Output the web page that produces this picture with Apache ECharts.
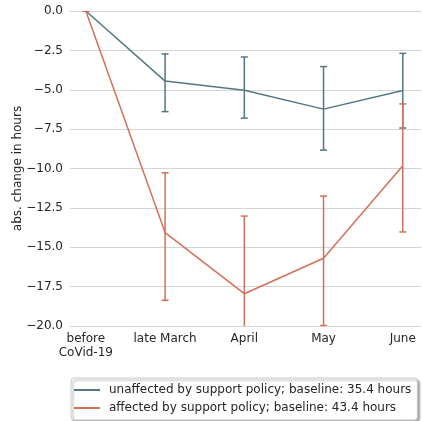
<!DOCTYPE html>
<html><head><meta charset="utf-8">
<script src="https://cdn.jsdelivr.net/npm/echarts@6/dist/echarts.min.js"></script>
<style>html,body{margin:0;padding:0;background:#fff}#c{width:422px;height:421px}</style>
</head><body><div id="c"></div>
<script>
const categories = ['before\nCoVid-19', 'late March', 'April', 'May', 'June'];
const unaffectedMean = [0, -4.45, -5.03, -6.23, -5.05];
const unaffectedLow  = [0, -6.39, -6.80, -8.83, -7.43];
const unaffectedHigh = [0, -2.73, -2.92, -3.53, -2.69];
const affectedMean = [0, -14.07, -17.95, -15.70, -9.82];
const affectedLow  = [0, -18.37, -22.9, -19.97, -14.03];
const affectedHigh = [0, -10.27, -13.02, -11.75, -5.90];
const yTicks = [-20, -17.5, -15, -12.5, -10, -7.5, -5, -2.5, 0];
const nameU = 'unaffected by support policy; baseline: 35.4 hours';
const nameA = 'affected by support policy; baseline: 43.4 hours';
const colU = '#527684';
const colA = '#d2705a';

function errData(lo, hi){ return lo.map((l,i)=>[i,l,hi[i]]); }
function lineData(m){ return m.map((v,i)=>[i,v]); }
function errRender(color){
  return function(params, api){
    const x = api.value(0);
    const p1 = api.coord([x, api.value(1)]);
    const p2 = api.coord([x, api.value(2)]);
    const w = 3.5;
    const st = {stroke: color, lineWidth: 1.5, fill: null};
    return {type:'group', children:[
      {type:'line', shape:{x1:p1[0],y1:p1[1],x2:p2[0],y2:p2[1]}, style:st},
      {type:'line', shape:{x1:p1[0]-w,y1:p1[1],x2:p1[0]+w,y2:p1[1]}, style:st},
      {type:'line', shape:{x1:p2[0]-w,y1:p2[1],x2:p2[0]+w,y2:p2[1]}, style:st}
    ]};
  };
}
const chart = echarts.init(document.getElementById('c'), null, {renderer:'canvas'});
chart.setOption({
  animation:false,
  textStyle:{fontFamily:'DejaVu Sans'},
  grid:{left:70, right:1, top:11, bottom:95, outerBoundsMode:'none', containLabel:false},
  xAxis:{type:'value', min:-0.2, max:4.23,
    axisLine:{show:false}, axisTick:{show:false}, splitLine:{show:false},
    axisLabel:{customValues:[0,1,2,3,4], formatter:v=>categories[Math.round(v)], color:'#262626', fontSize:12, margin:6, lineHeight:14, fontFamily:'DejaVu Sans', align:'center'}
  },
  yAxis:{type:'value', min:-20, max:0, interval:2.5,
    axisLine:{show:false}, axisTick:{show:false},
    splitLine:{lineStyle:{color:'#d5d5d5', width:1}},
    axisLabel:{color:'#262626', fontSize:12, margin:7, fontFamily:'DejaVu Sans',
      formatter:v=>(v<0?'\u2212':'')+Math.abs(v).toFixed(1)},
    name:'abs. change in hours', nameLocation:'middle', nameGap:46, nameRotate:90, nameMoveOverlap:false,
    nameTextStyle:{color:'#262626', fontSize:12, fontFamily:'DejaVu Sans'}
  },
  legend:{orient:'vertical', left:71, top:378,
    data:[{name:nameU, icon:'rect'},{name:nameA, icon:'rect'}],
    itemWidth:26, itemHeight:2, itemGap:4,
    padding:[5,6,5,3],
    textStyle:{color:'#262626', fontSize:12, lineHeight:14, fontFamily:'DejaVu Sans', padding:[0,0,0,4]},
    borderColor:'#cccccc', borderWidth:1, borderRadius:3,
    backgroundColor:'#fff', shadowColor:'rgba(0,0,0,0.35)', shadowOffsetX:2, shadowOffsetY:2, shadowBlur:2
  },
  series:[
    {name:nameU, type:'line', data:lineData(unaffectedMean), showSymbol:false, symbol:'none', color:colU, lineStyle:{color:colU, width:1.5}, z:2},
    {name:nameU+'_e', type:'custom', data:errData(unaffectedLow, unaffectedHigh), renderItem:errRender(colU), clip:true, z:2, encode:{x:0, y:[1,2]}},
    {name:nameA, type:'line', data:lineData(affectedMean), showSymbol:false, symbol:'none', color:colA, lineStyle:{color:colA, width:1.5}, z:3},
    {name:nameA+'_e', type:'custom', data:errData(affectedLow, affectedHigh), renderItem:errRender(colA), clip:true, z:3, encode:{x:0, y:[1,2]}}
  ]
});
</script></body></html>
